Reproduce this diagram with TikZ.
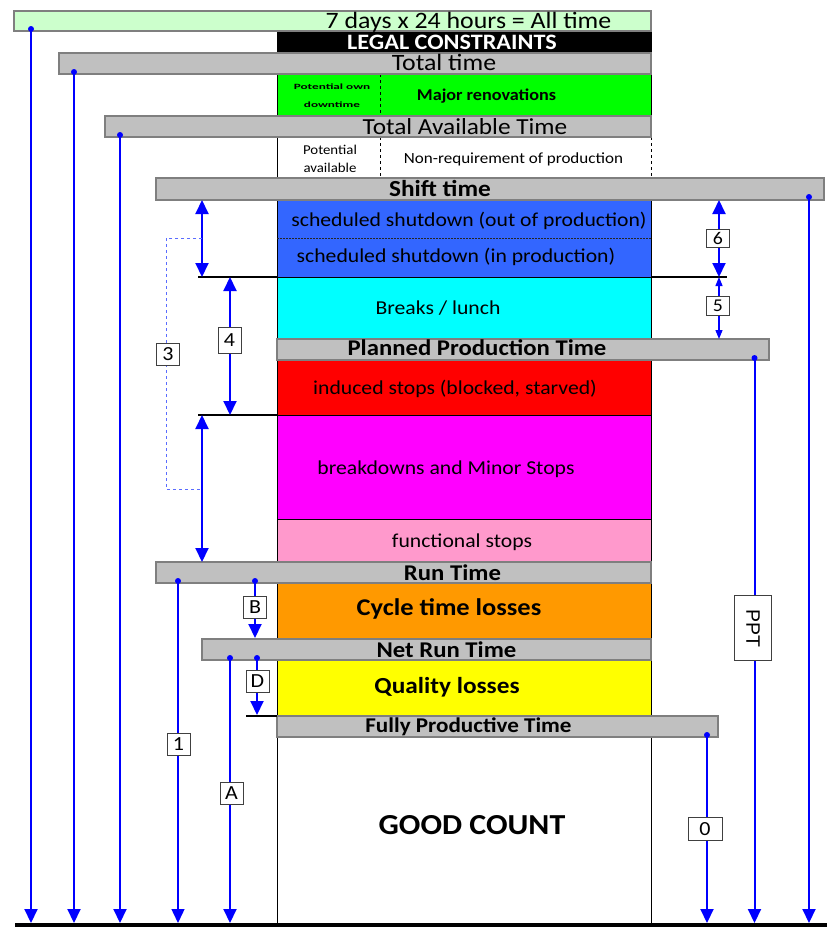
\documentclass[tikz,border=0pt]{standalone}
\usepackage{fontspec}
\usepackage{graphicx}
\setmainfont[FakeStretch=1.1]{Carlito}
\newfontfamily\plainsans{Liberation Sans}
\usetikzlibrary{arrows.meta}
\definecolor{palegreen}{HTML}{CCFFCC}
\definecolor{barfill}{HTML}{C0C0C0}
\definecolor{baredge}{HTML}{7F7F7F}
\definecolor{renogreen}{HTML}{00FF00}
\definecolor{shutblue}{HTML}{3366FF}
\definecolor{breakcyan}{HTML}{00FFFF}
\definecolor{stopred}{HTML}{FF0000}
\definecolor{stopmagenta}{HTML}{FF00FF}
\definecolor{stoppink}{HTML}{FF99CC}
\definecolor{cycleorange}{HTML}{FF9900}
\definecolor{qualyellow}{HTML}{FFFF00}
\definecolor{flowblue}{HTML}{0000FF}
\definecolor{dashblue}{HTML}{5A6CFF}
\newcommand\fsz[1]{\fontsize{#1}{#1}\selectfont}
\begin{document}
\begin{tikzpicture}[x=1pt,y=-1pt,
  region/.style={draw=black, line width=0.8pt, inner sep=0pt, outer sep=0pt, anchor=north west},
  timebar/.style={draw=baredge, fill=barfill, line width=1.2pt, inner sep=0pt, outer sep=0pt, anchor=north west},
  txt/.style={inner sep=0pt, anchor=base},
  tag/.style={draw=black!75, fill=white, line width=1pt, inner sep=0pt, minimum width=23pt, minimum height=22pt, font=\fsz{20}},
  flow/.style={draw=flowblue, line width=2pt, -{Triangle[width=13pt,length=14pt]}},
  twoway/.style={draw=flowblue, line width=2pt, {Triangle[width=13pt,length=14pt]}-{Triangle[width=13pt,length=14pt]}},
  smalltwoway/.style={draw=flowblue, line width=1.3pt, {Triangle[width=7pt,length=9pt]}-{Triangle[width=7pt,length=9pt]}},
  startdot/.style={circle, fill=flowblue, inner sep=0pt, minimum size=6pt},
  ledge/.style={draw=black, line width=2.5pt},
  divider/.style={draw=black, line width=0.7pt, dashed},
]
\useasboundingbox (0,0) rectangle (827,938);
\fill[white] (0,0) rectangle (827,938);

% loss regions of the central column
\node[region, fill=renogreen, minimum width=374pt, minimum height=42pt] (reno) at (277,74) {};
\node[region, draw=none, minimum width=374pt, minimum height=41pt] (avail) at (277,137) {};
\node[region, fill=shutblue, minimum width=374pt, minimum height=77pt] (shut) at (277,200) {};
\node[region, fill=breakcyan, minimum width=374pt, minimum height=62pt] (breaks) at (277,277) {};
\node[region, fill=stopred, minimum width=374pt, minimum height=55pt] (induced) at (277,360) {};
\node[region, fill=stopmagenta, minimum width=374pt, minimum height=104pt] (breakdown) at (277,415) {};
\node[region, fill=stoppink, minimum width=374pt, minimum height=43pt] (functional) at (277,519) {};
\node[region, fill=cycleorange, minimum width=374pt, minimum height=56pt] (cycle) at (277,583) {};
\node[region, fill=qualyellow, minimum width=374pt, minimum height=56pt] (quality) at (277,660) {};
\node[region, fill=white, minimum width=374pt, minimum height=188pt] (good) at (277,737) {};

% edges and dividers
\draw[line width=0.8pt] (avail.north west) -- (avail.south west);
\draw[divider] (avail.north east) -- (avail.south east);
\draw[divider] (380,74) -- (380,116);
\draw[divider] (380,137) -- (380,178);
\draw[draw=black!85, line width=0.7pt, dash pattern=on 2pt off 1pt] (277,238) -- (651,238);

% time bars
\node[timebar, fill=palegreen, minimum width=637pt, minimum height=20pt] (alltime) at (14,11) {};
\node[region, fill=black, minimum width=374pt, minimum height=21pt] (legal) at (277,32) {};
\node[timebar, minimum width=592pt, minimum height=21pt] (total) at (59,53) {};
\node[timebar, minimum width=546pt, minimum height=21pt] (tat) at (105,116) {};
\node[timebar, minimum width=668pt, minimum height=22pt] (shift) at (156,178) {};
\node[timebar, minimum width=492pt, minimum height=21pt] (ppt) at (277,339) {};
\node[timebar, minimum width=495pt, minimum height=21pt] (run) at (156,562) {};
\node[timebar, minimum width=449pt, minimum height=21pt] (netrun) at (202,639) {};
\node[timebar, minimum width=441pt, minimum height=21pt] (fpt) at (277,716) {};

% texts
\node[txt, font=\fsz{23.5}] (alltimetxt) at (468.5,28) {7 days x 24 hours = All time};
\node[txt, font=\fsz{22}\bfseries, text=white] (legaltxt) at (452,49) {LEGAL CONSTRAINTS};
\node[txt, font=\fsz{23.5}] (totaltxt) at (444,70.5) {Total time};
\node[txt, font=\fsz{8}\bfseries] (ownA) at (332,89) {\scalebox{1.5}[1]{Potential own}};
\node[txt, font=\fsz{8}\bfseries] (ownB) at (332,107) {\scalebox{1.5}[1]{downtime}};
\node[txt, font=\fsz{16.5}\bfseries] (renotxt) at (486.5,100.5) {Major renovations};
\node[txt, font=\fsz{23}] (tattxt) at (465,134) {Total Available Time};
\node[txt, font=\fsz{13.5}] (availA) at (330,154.5) {Potential};
\node[txt, font=\fsz{13.5}] (availB) at (330,172.5) {available};
\node[txt, font=\fsz{15.5}] (nonreq) at (513.5,163) {Non-requirement of production};
\node[txt, font=\fsz{23}\bfseries] (shifttxt) at (440,196) {Shift time};
\node[txt, font=\fsz{19.7}] (outtxt) at (469,226) {scheduled shutdown (out of production)};
\node[txt, font=\fsz{19.7}] (intxt) at (456,262) {scheduled shutdown (in production)};
\node[txt, font=\fsz{19.7}] (breaktxt) at (438,314) {Breaks / lunch};
\node[txt, font=\fsz{22.5}\bfseries] (ppttxt) at (477,355) {Planned Production Time};
\node[txt, font=\fsz{19.7}] (inducedtxt) at (455,394) {induced stops (blocked, starved)};
\node[txt, font=\fsz{19.7}] (bdtxt) at (446,474) {breakdowns and Minor Stops};
\node[txt, font=\fsz{19.7}] (functxt) at (462,547.5) {functional stops};
\node[txt, font=\fsz{22.5}\bfseries] (runtxt) at (452.5,580) {Run Time};
\node[txt, font=\fsz{24}\bfseries] (cycletxt) at (449,615) {Cycle time losses};
\node[txt, font=\fsz{22.5}\bfseries] (nettxt) at (446.5,657) {Net Run Time};
\node[txt, font=\fsz{23}\bfseries] (qualtxt) at (447,693) {Quality losses};
\node[txt, font=\fsz{21}\bfseries] (fpttxt) at (468.5,732) {Fully Productive Time};
\node[txt, font=\fsz{29}\bfseries] (goodtxt) at (472,834) {GOOD COUNT};

% level separators and base line
\coordinate (sepA) at (198,277);
\coordinate (sepB) at (727,277);
\coordinate (sepC) at (198,415);
\draw[ledge] (sepA) -- (shut.south west);
\draw[ledge] (shut.south east) -- (sepB);
\draw[ledge] (sepC) -- (induced.south west);
\coordinate (baseL) at (15,925);
\coordinate (baseR) at (827,925);
\draw[line width=3.5pt] (baseL) -- (baseR);
\coordinate (base) at (0,923);
\coordinate (qend) at (246,716);
\draw[line width=1.2pt] (qend) -- (quality.south west);

% long flows down to the base line
\coordinate (f0) at (31,29);
\coordinate (f1) at (74,72);
\coordinate (f2) at (120,135);
\coordinate (f3) at (809,197);
\coordinate (f4) at (754.5,358);
\coordinate (f5) at (707,735);
\coordinate (f6) at (178,581);
\coordinate (f7) at (230,658);
\foreach \c in {f0,f1,f2,f3,f4,f5,f7}{\draw[flow] (\c) -- (\c |- base);}
\draw[flow, line width=1.4pt] (f6) -- (f6 |- base);

% short flows
\coordinate (bTop) at (255,581);
\coordinate (bEnd) at (255,638);
\coordinate (dTop) at (257,658);
\coordinate (dEnd) at (257,715);
\draw[flow] (bTop) -- (bEnd);
\draw[flow] (dTop) -- (dEnd);

% start dots
\foreach \c in {f0,f1,f2,f3,f4,f5,f6,f7,bTop,dTop}{\node[startdot] (dot-\c) at (\c) {};}

% double arrows
\coordinate (s1a) at (202,200);
\coordinate (s1b) at (202,277);
\coordinate (s2a) at (230,277);
\coordinate (s2b) at (230,415);
\coordinate (s3a) at (202,415);
\coordinate (s3b) at (202,562);
\coordinate (s6a) at (719,200);
\coordinate (s6b) at (719,277);
\coordinate (s5a) at (719,277);
\coordinate (s5b) at (719,339);
\draw[twoway] (s1a) -- (s1b);
\draw[twoway] (s2a) -- (s2b);
\draw[twoway] (s3a) -- (s3b);
\draw[twoway] (s6a) -- (s6b);
\draw[smalltwoway] (s5a) -- (s5b);

% bracket grouping scheduled shutdown and stops
\coordinate (g1) at (202,238);
\coordinate (g2) at (166,238);
\coordinate (g3) at (166,489);
\coordinate (g4) at (202,489);
\draw[draw=dashblue, line width=1pt, dashed] (g1) -- (g2) -- (g3) -- (g4);

% tags
\node[tag] (t3) at (168,354) {3};
\node[tag, minimum height=26pt] (t4) at (229.5,340) {4};
\node[tag, minimum height=18pt, font=\fsz{18}] (t6) at (718,238) {6};
\node[tag, minimum height=19pt, font=\fsz{18}] (t5) at (718,306) {5};
\node[tag] (tB) at (255,607) {B};
\node[tag] (tD) at (257.5,681.5) {D};
\node[tag] (t1) at (178.5,744) {1};
\node[tag] (tA) at (231.5,793) {A};
\node[tag, minimum width=34pt, minimum height=23pt] (t0) at (705,829) {0};
\node[tag, rotate=-90, minimum width=65pt, minimum height=37pt, font=\plainsans\fsz{19.5}] (tppt) at (753,628) {PPT};
\end{tikzpicture}
\end{document}
